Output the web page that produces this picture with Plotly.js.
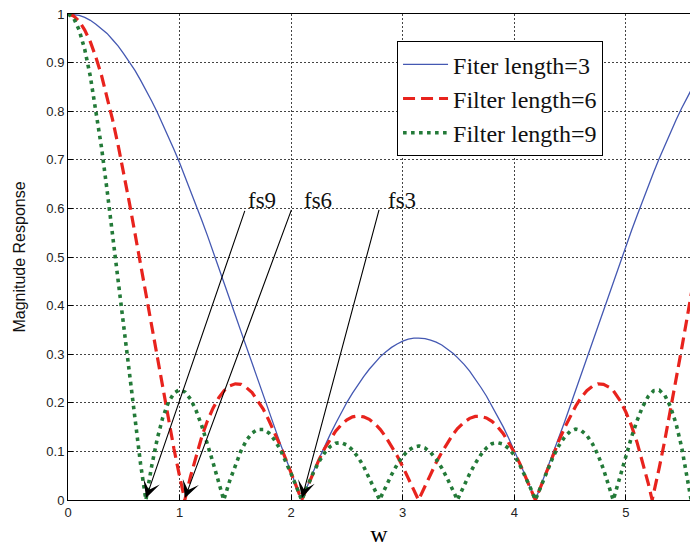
<!DOCTYPE html>
<html>
<head>
<meta charset="utf-8">
<script src="https://cdn.plot.ly/plotly-3.0.1.min.js"></script>
<style>html,body{margin:0;padding:0;background:#fff;overflow:hidden}</style>
</head>
<body>
<div id="chart" style="width:690px;height:547px"></div>
<script>
// Frequency axis w (rad/sample)
const w = [0,0.05,0.10,0.15,0.20,0.25,0.30,0.35,0.40,0.45,0.50,0.55,0.60,0.65,0.698,0.70,0.75,0.80,0.85,0.90,0.95,1.00,1.047,1.05,1.10,1.15,1.20,1.25,1.30,1.35,1.396,1.40,1.45,1.50,1.55,1.60,1.65,1.70,1.75,1.80,1.85,1.90,1.95,2.00,2.05,2.094,2.10,2.15,2.20,2.25,2.30,2.35,2.40,2.45,2.50,2.55,2.60,2.65,2.70,2.75,2.793,2.80,2.85,2.90,2.95,3.00,3.05,3.10,3.142,3.15,3.20,3.25,3.30,3.35,3.40,3.45,3.491,3.50,3.55,3.60,3.65,3.70,3.75,3.80,3.85,3.90,3.95,4.00,4.05,4.10,4.15,4.189,4.20,4.25,4.30,4.35,4.40,4.45,4.50,4.55,4.60,4.65,4.70,4.75,4.80,4.85,4.887,4.90,4.95,5.00,5.05,5.10,5.15,5.20,5.236,5.25,5.30,5.35,5.40,5.45,5.50,5.55,5.585,5.60];

// Magnitude response, filter length 3
const len3 = [1.000,0.999,0.997,0.993,0.987,0.979,0.970,0.960,0.947,0.934,0.918,0.902,0.884,0.864,0.844,0.843,0.821,0.798,0.773,0.748,0.721,0.694,0.667,0.665,0.636,0.606,0.575,0.544,0.512,0.479,0.449,0.447,0.414,0.380,0.347,0.314,0.281,0.247,0.215,0.182,0.150,0.118,0.087,0.056,0.026,0,0.003,0.032,0.059,0.085,0.111,0.135,0.158,0.180,0.201,0.220,0.238,0.254,0.269,0.283,0.293,0.295,0.305,0.314,0.321,0.327,0.331,0.333,0.333,0.333,0.332,0.329,0.325,0.319,0.311,0.302,0.293,0.291,0.279,0.265,0.249,0.232,0.214,0.194,0.173,0.151,0.127,0.102,0.077,0.050,0.022,0,0.006,0.036,0.066,0.097,0.128,0.160,0.193,0.226,0.259,0.292,0.325,0.358,0.392,0.425,0.449,0.458,0.490,0.522,0.554,0.585,0.616,0.646,0.667,0.675,0.703,0.730,0.756,0.782,0.806,0.829,0.844,0.850];

// Magnitude response, filter length 6
const len6 = [1.000,0.996,0.985,0.967,0.943,0.911,0.874,0.830,0.782,0.729,0.672,0.612,0.549,0.485,0.422,0.420,0.354,0.289,0.225,0.164,0.105,0.049,0,0.003,0.050,0.093,0.131,0.163,0.189,0.210,0.225,0.225,0.235,0.239,0.238,0.231,0.221,0.205,0.187,0.164,0.140,0.113,0.085,0.055,0.026,0,0.003,0.031,0.058,0.083,0.106,0.125,0.142,0.155,0.165,0.171,0.173,0.171,0.166,0.157,0.147,0.145,0.129,0.111,0.091,0.069,0.045,0.021,0,0.004,0.029,0.053,0.077,0.098,0.118,0.135,0.147,0.149,0.160,0.168,0.172,0.172,0.169,0.162,0.151,0.137,0.119,0.098,0.075,0.049,0.022,0,0.006,0.036,0.065,0.094,0.122,0.148,0.172,0.193,0.211,0.225,0.234,0.239,0.238,0.232,0.225,0.221,0.204,0.181,0.153,0.119,0.079,0.035,0,0.014,0.067,0.124,0.184,0.247,0.311,0.376,0.422,0.442];

// Magnitude response, filter length 9
const len9 = [1.000,0.992,0.967,0.927,0.872,0.804,0.726,0.638,0.545,0.448,0.349,0.253,0.161,0.075,0,0.003,0.070,0.126,0.170,0.201,0.220,0.227,0.222,0.222,0.207,0.183,0.152,0.116,0.077,0.037,0,0.003,0.040,0.073,0.101,0.123,0.138,0.145,0.145,0.138,0.124,0.105,0.081,0.054,0.026,0,0.003,0.031,0.057,0.079,0.097,0.110,0.117,0.118,0.113,0.103,0.088,0.069,0.046,0.022,0,0.004,0.029,0.052,0.073,0.090,0.102,0.109,0.111,0.111,0.107,0.098,0.084,0.066,0.044,0.020,0,0.005,0.030,0.054,0.075,0.093,0.107,0.116,0.118,0.115,0.106,0.092,0.072,0.049,0.022,0,0.006,0.036,0.064,0.090,0.112,0.129,0.141,0.146,0.143,0.133,0.116,0.093,0.063,0.028,0,0.010,0.050,0.090,0.129,0.163,0.192,0.213,0.222,0.225,0.226,0.215,0.192,0.157,0.109,0.049,0,0.022];

const seriesNames = ["Fiter length=3", "Filter length=6", "Filter length=9"];

// Arrow labels and their arrows (label position, arrow tail, arrow head)
const arrowLabels = ["fs9", "fs6", "fs3"];
const labelX = [1.738, 2.240, 2.993];
const labelY = [0.617, 0.617, 0.617];
const tailX = [1.586, 2.004, 2.789];
const tailY = [0.596, 0.598, 0.598];
const headX = [0.700, 1.048, 2.097];
const headY = [0.004, 0.004, 0.004];

const traces = [
  {x: w, y: len3, name: seriesNames[0], type: "scatter", mode: "lines",
   line: {color: "#4458b2", width: 1.3}},
  {x: w, y: len6, name: seriesNames[1], type: "scatter", mode: "lines",
   line: {color: "#e8231d", width: 3.2, dash: "12px,6px"}},
  {x: w, y: len9, name: seriesNames[2], type: "scatter", mode: "lines",
   line: {color: "#237a38", width: 3.6, dash: "3.6px,4.4px"}}
];

const annotations = [];
for (let i = 0; i < arrowLabels.length; i++) {
  annotations.push({
    x: headX[i], y: headY[i], xref: "x", yref: "y",
    ax: tailX[i], ay: tailY[i], axref: "x", ayref: "y",
    text: "", showarrow: true, arrowhead: 3, arrowsize: 2.6, arrowwidth: 1.1,
    arrowcolor: "#000", font: {size: 1}, borderpad: 0, standoff: 0, startstandoff: 0
  });
  annotations.push({
    x: labelX[i], y: labelY[i], xref: "x", yref: "y",
    text: arrowLabels[i], showarrow: false, xanchor: "center", yanchor: "middle",
    font: {family: "Liberation Serif, Times New Roman, serif", size: 23, color: "#111"}
  });
}

const axisFont = {family: "Liberation Sans, Arial, sans-serif", size: 13, color: "#222"};

const layout = {
  width: 690, height: 547,
  margin: {l: 68, r: 0, t: 14, b: 47, pad: 0},
  paper_bgcolor: "#fff", plot_bgcolor: "#fff",
  showlegend: true,
  legend: {
    x: 0.529, y: 0.944, xanchor: "left", yanchor: "top",
    bgcolor: "#fff", bordercolor: "#000", borderwidth: 1,
    font: {family: "Liberation Serif, Times New Roman, serif", size: 24, color: "#111"},
    itemwidth: 45, tracegroupgap: 0
  },
  xaxis: {
    range: [0, 5.575], dtick: 1, tick0: 0,
    showgrid: true, gridcolor: "#444", gridwidth: 1, griddash: "2px,2px",
    zeroline: false, showline: true, linecolor: "#000", linewidth: 1, mirror: true,
    ticks: "inside", ticklen: 5, tickcolor: "#000",
    tickfont: axisFont,
    title: {text: "w", font: {family: "Liberation Serif, Times New Roman, serif", size: 24, color: "#000"}, standoff: 8}
  },
  yaxis: {
    range: [0, 1], dtick: 0.1, tick0: 0,
    showgrid: true, gridcolor: "#444", gridwidth: 1, griddash: "2px,2px",
    zeroline: false, showline: true, linecolor: "#000", linewidth: 1, mirror: false,
    ticks: "inside", ticklen: 5, tickcolor: "#000",
    tickfont: axisFont,
    title: {text: "Magnitude Response", font: {family: "Liberation Sans, Arial, sans-serif", size: 16, color: "#111"}, standoff: 16}
  },
  annotations: annotations
};

Plotly.newPlot("chart", traces, layout, {staticPlot: true, displayModeBar: false});
</script>
</body>
</html>
